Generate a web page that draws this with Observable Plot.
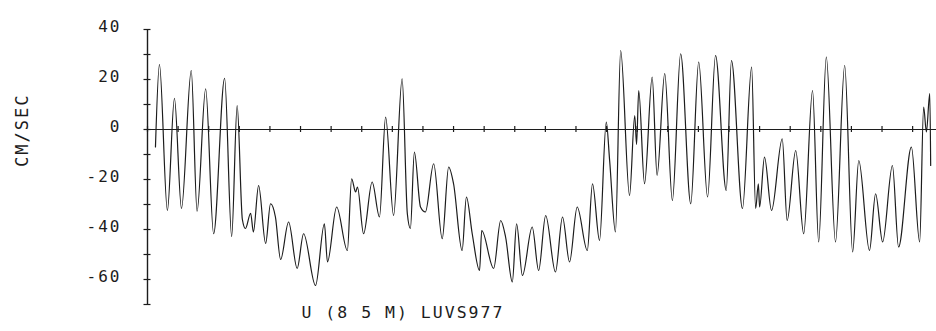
<!DOCTYPE html>
<html>
<head>
<meta charset="utf-8">
<script src="https://cdn.jsdelivr.net/npm/d3@7"></script>
<script src="https://cdn.jsdelivr.net/npm/@observablehq/plot@0.6"></script>
<style>
  html, body { margin: 0; padding: 0; background: #fff; }
  .chart text { letter-spacing: 2px; }
</style>
</head>
<body>
<div id="chart"></div>
<script>
// Time in days from the start of the record (one tick per day on the zero line)
const days = [
  0.26, 0.39, 0.65, 0.88, 1.11, 1.43, 1.62, 1.90, 2.16, 2.52, 2.75, 2.93,
  3.10, 3.20, 3.37, 3.46, 3.63, 3.86, 4.02, 4.18, 4.35, 4.61, 4.89, 5.10,
  5.49, 5.78, 5.88, 6.18, 6.53, 6.67, 6.80, 6.86, 7.06, 7.34, 7.58, 7.78,
  8.04, 8.32, 8.49, 8.59, 8.72, 8.92, 9.08, 9.35, 9.63, 9.84, 10.00, 10.28,
  10.42, 10.61, 10.85, 10.92, 11.31, 11.54, 11.70, 11.92, 12.06, 12.25, 12.57, 12.78,
  13.01, 13.33, 13.56, 13.79, 14.04, 14.37, 14.54, 14.77, 14.99, 15.10, 15.29, 15.46,
  15.75, 15.92, 15.98, 16.05, 16.24, 16.49, 16.65, 16.90, 17.15, 17.42, 17.75, 18.01,
  18.30, 18.56, 18.91, 19.08, 19.44, 19.74, 19.87, 19.96, 20.00, 20.16, 20.39, 20.74,
  20.90, 21.18, 21.44, 21.73, 21.93, 22.18, 22.48, 22.78, 23.04, 23.24, 23.59, 23.79,
  24.02, 24.34, 24.54, 24.96, 25.23, 25.36, 25.45, 25.56, 25.59
];
// Current speed, cm/sec
const speeds = [
  -7, 26, -32.4, 12.5, -31.6, 23.6, -32.7, 16.3, -41.7, 20.5, -42.8, 9.6,
  -36, -39.6, -33.5, -41, -22.4, -45.6, -29.7, -35, -52, -37, -55.6, -41.7,
  -62.4, -37.7, -53, -31, -48.4, -19.7, -25, -23, -41.7, -21, -35, 5,
  -34.4, 20.3, -33.7, -39.6, -9, -31, -33, -13.7, -43.7, -15, -21.7, -48.4,
  -27, -41.7, -56.4, -40.4, -55.6, -36.4, -43, -61, -37.7, -58.4, -39, -56.4,
  -34.4, -57, -35, -53, -31, -48.4, -21.7, -44.4, 3, -12.4, -41, 31.6,
  -26.4, 5.6, -6, 15.6, -21.7, 21, -18.4, 22.4, -28.4, 30.3, -29.7, 27,
  -27, 29.6, -24.4, 27.6, -31.6, 25, -31.6, -21.7, -31, -11, -32.4, -3.7,
  -36.4, -8.4, -41.7, 15.6, -45, 29, -45, 25.6, -49, -12.4, -48.4, -25.7,
  -45, -14.4, -47, -7, -45, 9, -1, 14.4, -14.4
];
const dayTicks = d3.range(0, 26);
const yTickValues = d3.range(-70, 41, 10);
const yLabelValues = [40, 20, 0, -20, -40, -60];
const yTitle = "CM/SEC";
const chartTitle = "U (8 5 M) LUVS977";

const series = days.map((d, i) => ({day: d, v: speeds[i]}));
const ink = "#1c1c1c";

const chart = Plot.plot({
  width: 936,
  height: 331,
  marginLeft: 147,
  marginRight: 0,
  marginTop: 29,
  marginBottom: 27,
  className: "chart",
  style: {fontFamily: "'DejaVu Sans Mono', monospace", color: ink, background: "#fff"},
  x: {domain: [0, 25.78], axis: null},
  y: {domain: [-70, 40], label: null},
  marks: [
    Plot.ruleY([0], {stroke: ink, strokeWidth: 1.2}),
    Plot.ruleX(dayTicks, {x: d => d, y1: -1.2, y2: 1.2, stroke: ink, strokeWidth: 1.2}),
    Plot.ruleX([0], {stroke: ink, strokeWidth: 1.4}),
    Plot.axisY({ticks: yTickValues, tickSize: 7, dx: 3.5, tickFormat: () => "", label: null, stroke: ink, strokeWidth: 1.2}),
    Plot.axisY({ticks: yLabelValues, tickSize: 0, tickPadding: 26, dy: -3, tickFormat: d => String(d), label: null, fontSize: 16, fill: ink}),
    Plot.line(series, {x: "day", y: "v", curve: "monotone-x", stroke: ink, strokeWidth: 1.2}),
    Plot.text([yTitle], {text: d => d, frameAnchor: "left", dx: -125, rotate: -90, fontSize: 17, fill: ink}),
    Plot.text([chartTitle], {text: d => d, frameAnchor: "bottom-left", dx: 154, dy: 13, textAnchor: "start", fontSize: 16.5, fill: ink})
  ]
});
document.getElementById("chart").appendChild(chart);
</script>
</body>
</html>
